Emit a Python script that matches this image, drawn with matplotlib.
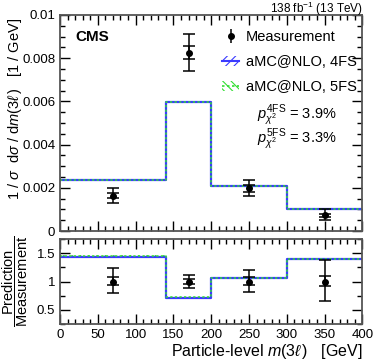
import numpy as np
import matplotlib
matplotlib.use("Agg")
from matplotlib import pyplot as plt
from matplotlib.patches import Patch
from matplotlib.lines import Line2D
from matplotlib.ticker import MultipleLocator, FuncFormatter

plt.rcParams['font.family'] = ['Liberation Sans', 'DejaVu Sans']
plt.rcParams['mathtext.fontset'] = 'custom'
plt.rcParams['mathtext.rm'] = 'Liberation Sans'
plt.rcParams['mathtext.it'] = 'Liberation Sans:italic'
plt.rcParams['mathtext.bf'] = 'Liberation Sans:bold'
plt.rcParams['hatch.linewidth'] = 0.8

# binning and values
edges = [0, 140, 200, 300, 400]
centres = [70, 170, 250, 350]
meas = [0.00163, 0.00826, 0.00197, 0.00074]
meas_up = [0.00035, 0.00088, 0.00038, 0.00026]
meas_dn = [0.00035, 0.00083, 0.00037, 0.00023]
meas_stat = [0.00012, 0.00030, 0.00016, 0.00007]
pred_4fs = [0.00235, 0.00596, 0.00209, 0.00102]
pred_5fs = [0.00236, 0.00597, 0.00209, 0.00102]
band = [0.00002, 0.00003, 0.00002, 0.00001]

ratio_4fs = [1.43, 0.71, 1.07, 1.39]
ratio_5fs = [1.45, 0.72, 1.07, 1.39]
ratio_up = [0.23, 0.11, 0.20, 0.38]
ratio_dn = [0.21, 0.11, 0.19, 0.35]
ratio_stat_up = [0.08, 0.04, 0.08, 0.09]
ratio_stat_dn = [0.07, 0.04, 0.07, 0.08]
ratio_band = [0.01, 0.005, 0.008, 0.01]

blue = '#3a3aff'
green = '#33dd33'

fig = plt.figure(figsize=(3.74, 3.63), dpi=100)
ax = fig.add_axes([0.1604, 0.3636, 0.8086, 0.5951])
rx = fig.add_axes([0.1604, 0.1074, 0.8086, 0.2342])


def steps(vals):
    return np.append(vals, vals[-1])


def draw_pred(a, p4, p5, b):
    p4 = np.array(p4); p5 = np.array(p5); b = np.array(b)
    a.fill_between(edges, steps(p4 - b), steps(p4 + b), step='post',
                   facecolor='none', edgecolor=blue, hatch='////', lw=0)
    a.fill_between(edges, steps(p5 - b), steps(p5 + b), step='post',
                   facecolor='none', edgecolor=green, hatch='\\\\\\\\', lw=0)
    a.step(edges, steps(p4), where='post', color=blue, lw=1.6)
    a.step(edges, steps(p5), where='post', color=green, lw=1.1, ls=(0, (1.5, 1.5)))


def draw_meas(a, y, up, dn, sup, sdn):
    a.errorbar(centres, y, yerr=[dn, up], fmt='none', ecolor='black',
               elinewidth=1.1, capsize=4, capthick=1.1, zorder=5)
    a.errorbar(centres, y, yerr=[sdn, sup], fmt='o', color='black', ms=4,
               ecolor='black', elinewidth=1.1, capsize=4, capthick=1.1, zorder=6)


draw_pred(ax, pred_4fs, pred_5fs, band)
draw_meas(ax, meas, meas_up, meas_dn, meas_stat, meas_stat)
draw_pred(rx, ratio_4fs, ratio_5fs, ratio_band)
draw_meas(rx, [1, 1, 1, 1], ratio_up, ratio_dn, ratio_stat_up, ratio_stat_dn)

for a in (ax, rx):
    a.set_xlim(0, 400)
    a.xaxis.set_major_locator(MultipleLocator(50))
    a.xaxis.set_minor_locator(MultipleLocator(10))
    a.tick_params(which='both', direction='in', top=True, right=True,
                  labelsize=9.5, colors='black')
    a.tick_params(which='major', length=7, width=1)
    a.tick_params(which='minor', length=3.5, width=1)
    for s in a.spines.values():
        s.set_linewidth(1.3)
        s.set_color('#555555')

ax.set_ylim(0, 0.01)
ax.yaxis.set_major_locator(MultipleLocator(0.002))
ax.yaxis.set_minor_locator(MultipleLocator(0.0005))
ax.yaxis.set_major_formatter(FuncFormatter(lambda v, p: '%g' % round(v, 4)))
ax.tick_params(labelbottom=False)

rx.set_ylim(0.25, 1.75)
rx.yaxis.set_major_locator(MultipleLocator(0.5))
rx.yaxis.set_minor_locator(MultipleLocator(0.25))
rx.yaxis.set_major_formatter(FuncFormatter(lambda v, p: '%g' % v))

ax.set_ylabel(r'1 / $\sigma$  d$\sigma$ / d$m(3\ell\,)$   [1 / GeV]', fontsize=10.5)
ax.yaxis.set_label_coords(-0.12, 0.565)
rx.set_ylabel(r'$\dfrac{\mathrm{Prediction}}{\mathrm{Measurement}}$', fontsize=10.5)
rx.yaxis.set_label_coords(-0.1, 0.5)
rx.set_xlabel(r'Particle-level $m(3\ell\,)$   [GeV]', fontsize=11.5, loc='right',
              labelpad=1)

ax.text(0.05, 0.93, 'CMS', transform=ax.transAxes, fontsize=11,
        fontweight='bold', va='top', ha='left')
ax.text(1.0, 1.009, r'138 fb$^{-1}$ (13 TeV)', transform=ax.transAxes,
        fontsize=8.5, ha='right', va='baseline')
ax.text(0.916, 0.535, r'$p_{\chi^2}^{\mathrm{4FS}}$ = 3.9%', transform=ax.transAxes,
        fontsize=10.5, ha='right', va='center')
ax.text(0.916, 0.425, r'$p_{\chi^2}^{\mathrm{5FS}}$ = 3.3%', transform=ax.transAxes,
        fontsize=10.5, ha='right', va='center')

h_meas = ax.errorbar([], [], yerr=[], fmt='o', color='black', ms=4,
                     capsize=3, elinewidth=1.1)
h4 = (Patch(facecolor='none', edgecolor=blue, hatch='////', lw=0),
      Line2D([], [], color=blue, lw=1.5))
h5 = (Patch(facecolor='none', edgecolor=green, hatch='\\\\\\\\', lw=0),
      Line2D([], [], color=green, lw=1.2, ls=(0, (1.5, 1.5))))
ax.legend([h_meas, h4, h5], ['Measurement', 'aMC@NLO, 4FS', 'aMC@NLO, 5FS'],
          loc='upper left', bbox_to_anchor=(0.535, 0.93), frameon=False,
          fontsize=10.5, handlelength=1.2, handletextpad=0.45, labelspacing=0.75,
          borderpad=0, borderaxespad=0)

fig.savefig('out.png', dpi=100)
